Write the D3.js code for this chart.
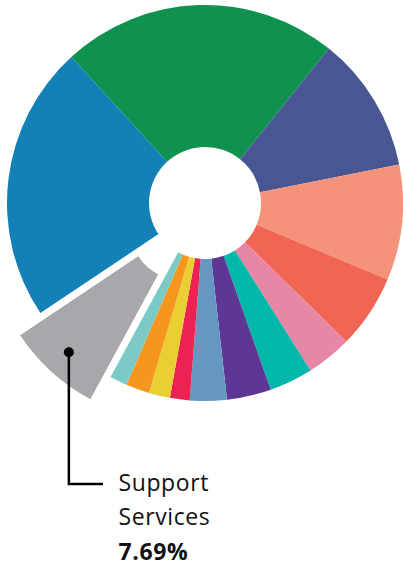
<!DOCTYPE html>
<html>
<head>
<meta charset="utf-8">
<script src="https://cdn.jsdelivr.net/npm/d3@7"></script>
<style>
  html, body { margin: 0; padding: 0; background: #fff; }
  svg { display: block; }
</style>
</head>
<body>
<svg id="chart" width="403" height="566"></svg>
<script>
// Data (clockwise from the top-left green slice)
const categories = [
  "Segment A", "Segment B", "Segment C", "Segment D", "Segment E",
  "Segment F", "Segment G", "Segment H", "Segment I", "Segment J",
  "Segment K", "Segment L", "Support Services", "Segment M"
];
const values = [22.5, 11.1, 9.4, 6.0, 3.7, 3.55, 3.6, 3.0, 1.6, 1.72, 1.92, 1.42, 7.69, 22.5];
const colors = [
  "#0f9150", "#485694", "#f5937a", "#f06553", "#e886a6",
  "#00b8a9", "#5e3795", "#6498c1", "#ec2352", "#eacf32",
  "#f7961e", "#7ccac8", "#a7a8ab", "#1380b7"
];
const highlight = "Support Services";
const highlightLabel = ["Support", "Services", "7.69%"];

const svg = d3.select("#chart");
const cx = 205, cy = 203;
const outerR = 198, innerR = 56;
const explode = 30;

const startAngle = -42.5 * Math.PI / 180;
const pie = d3.pie().sort(null).value(d => d.value)
  .startAngle(startAngle).endAngle(startAngle + 2 * Math.PI);
const data = categories.map((c, i) => ({ name: c, value: values[i], color: colors[i] }));
const arcs = pie(data);
const arc = d3.arc().innerRadius(innerR).outerRadius(outerR);

const g = svg.append("g").attr("transform", `translate(${cx},${cy})`);

function offset(d) {
  if (d.data.name !== highlight) return [0, 0];
  const a = (d.startAngle + d.endAngle) / 2;
  return [explode * Math.sin(a), -explode * Math.cos(a)];
}

g.selectAll("path.slice").data(arcs).join("path")
  .attr("class", "slice")
  .attr("d", arc)
  .attr("fill", d => d.data.color)
  .attr("transform", d => { const o = offset(d); return `translate(${o[0]},${o[1]})`; });

// Callout
const h = arcs.find(d => d.data.name === highlight);
const o = offset(h);
const mid = (h.startAngle + h.endAngle) / 2;
const dotR = 172;
const dx = cx + o[0] + dotR * Math.sin(mid);
const dy = cy + o[1] - dotR * Math.cos(mid);
const elbowY = 484, endX = 103;

svg.append("path")
  .attr("d", `M${dx},${dy} V${elbowY} H${endX}`)
  .attr("fill", "none").attr("stroke", "#000").attr("stroke-width", 2.5);
svg.append("circle").attr("cx", dx).attr("cy", dy).attr("r", 5).attr("fill", "#000");

const tx = 118.5;
const label = svg.append("g")
  .attr("font-family", "'Open Sans', 'Noto Sans', sans-serif")
  .attr("font-size", 23).attr("fill", "#111").attr("letter-spacing", 0.6);
label.append("text").attr("x", tx).attr("y", 490.5).text(highlightLabel[0]);
label.append("text").attr("x", tx).attr("y", 525).text(highlightLabel[1]);
label.append("text").attr("x", tx).attr("y", 560).attr("font-weight", "bold").text(highlightLabel[2]);
</script>
</body>
</html>
